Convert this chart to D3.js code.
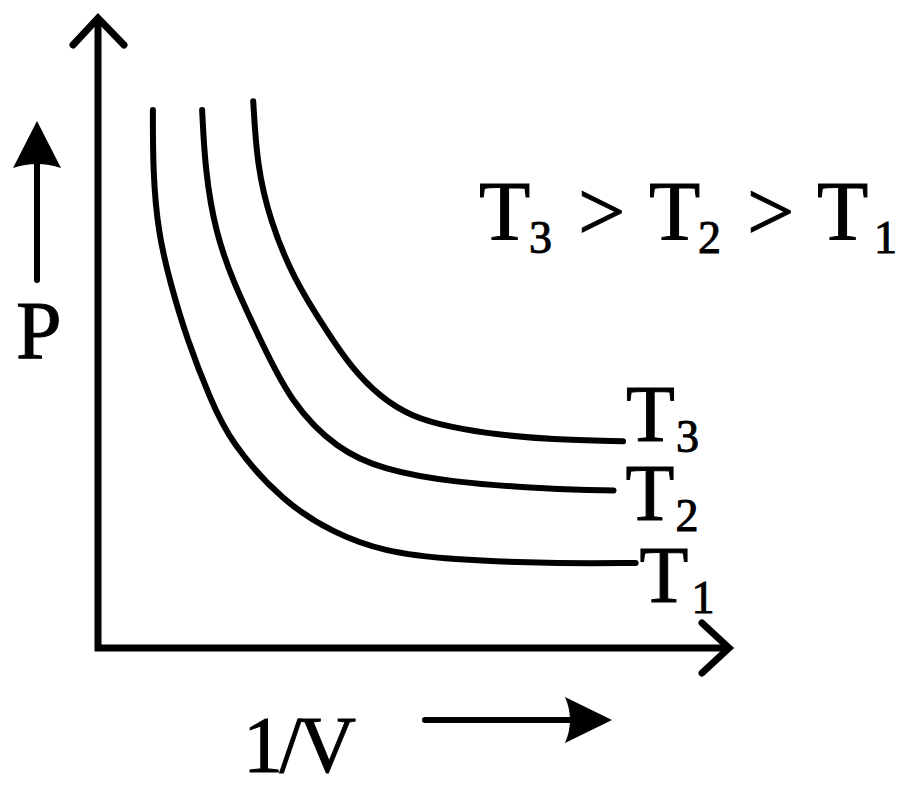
<!DOCTYPE html>
<html>
<head>
<meta charset="utf-8">
<script src="https://cdnjs.cloudflare.com/ajax/libs/d3/7.8.5/d3.min.js"></script>
<style>
  html, body { margin: 0; padding: 0; background: #fff; }
  svg { display: block; }
  text { font-family: 'Liberation Serif', 'Times New Roman', 'DejaVu Serif', serif; fill: #000; stroke: #000; stroke-width: 1; }
</style>
</head>
<body>
<div id="chart"></div>
<script>
// isotherms: [1/V, P] in arbitrary units
var curveT1 = [
  [0.87, 8.54], [0.87, 7.56], [0.95, 6.61], [1.14, 5.81], [1.41, 4.90],
  [1.78, 3.95], [2.10, 3.26], [2.94, 2.31], [3.73, 1.83], [4.52, 1.53],
  [5.59, 1.40], [7.17, 1.34], [8.52, 1.35]
]
var curveT2 = [
  [1.65, 8.54], [1.70, 7.56], [1.86, 6.61], [2.14, 5.81], [2.57, 4.90],
  [3.05, 3.90], [3.79, 3.15], [4.52, 2.83], [5.59, 2.63], [7.17, 2.52],
  [8.17, 2.50]
]
var curveT3 = [
  [2.46, 8.68], [2.52, 7.66], [2.73, 6.77], [3.10, 5.86], [3.63, 5.02],
  [4.03, 4.43], [4.48, 3.98], [4.95, 3.68], [5.59, 3.50], [6.38, 3.38],
  [7.17, 3.31], [8.32, 3.28]
]
var curves = [curveT1, curveT2, curveT3]
var curveSubs = ['1', '2', '3']
var relationParts = [['T', '3'], ['>', ''], ['T', '2'], ['>', ''], ['T', '1']]
var xLabel = '1/V'
var yLabel = 'P'

var width = 900, height = 795

var svg = d3.select('#chart')
  .append('svg')
  .attr('width', width)
  .attr('height', height)

var x = d3.scaleLinear().domain([0, 10]).range([98, 729])
var y = d3.scaleLinear().domain([0, 10]).range([648, 18])

// axes: one path with a square corner at the origin
svg.append('path')
  .attr('d', 'M' + x(0) + ',' + y(10) + 'L' + x(0) + ',' + y(0) + 'L' + x(10) + ',' + y(0))
  .attr('fill', 'none')
  .attr('stroke', '#000')
  .attr('stroke-width', 7)
  .attr('stroke-linejoin', 'miter')

function chevron(tipX, tipY, dx1, dy1, dx2, dy2) {
  svg.append('path')
    .attr('d', 'M' + (tipX + dx1) + ',' + (tipY + dy1) + 'L' + tipX + ',' + tipY +
      'L' + (tipX + dx2) + ',' + (tipY + dy2))
    .attr('fill', 'none')
    .attr('stroke', '#000')
    .attr('stroke-width', 7)
    .attr('stroke-linecap', 'round')
}
chevron(x(0), y(10), -25, 27, 26, 27)
chevron(x(10), y(0), -27, -25, -27, 25)

// the isotherms
var line = d3.line()
  .x(function(d) { return x(d[0]) })
  .y(function(d) { return y(d[1]) })
  .curve(d3.curveBasis)

svg.selectAll('path.iso')
  .data(curves)
  .enter()
  .append('path')
  .attr('class', 'iso')
  .attr('d', line)
  .attr('fill', 'none')
  .attr('stroke', '#000')
  .attr('stroke-width', 6)
  .attr('stroke-linecap', 'round')

// curve labels, placed relative to the end of each curve
var labelShift = [[4, 39], [12, 29], [3, 0]]
var subShift = [52, 50, 50]
curves.forEach(function(c, i) {
  var last = c[c.length - 1]
  var lx = x(last[0]) + labelShift[i][0]
  var ly = y(last[1]) + labelShift[i][1]
  var g = svg.append('text')
    .attr('x', lx)
    .attr('y', ly)
    .attr('font-size', 80)
  g.append('tspan').text('T')
  g.append('tspan')
    .attr('font-size', 46)
    .attr('x', lx + subShift[i])
    .attr('dy', 11)
    .text(curveSubs[i])
})

// relation T3 > T2 > T1
var relX = [479, 578, 649, 747, 817]
var relSubX = [529, 0, 698, 0, 874]
var rel = svg.append('text')
  .attr('y', 240)
  .attr('font-size', 84)
relationParts.forEach(function(p, i) {
  rel.append('tspan')
    .attr('x', relX[i])
    .attr('y', 240)
    .text(p[0])
  if (p[1] !== '') {
    rel.append('tspan')
      .attr('font-size', 46)
      .attr('x', relSubX[i])
      .attr('y', 253)
      .text(p[1])
  }
})

// P with arrow pointing up
svg.append('line')
  .attr('x1', 37).attr('y1', 280)
  .attr('x2', 37).attr('y2', 158)
  .attr('stroke', '#000')
  .attr('stroke-width', 6)
  .attr('stroke-linecap', 'round')
svg.append('path')
  .attr('d', 'M37,121L61,168Q37,160 13,168Z')
  .attr('fill', '#000')
svg.append('text')
  .attr('x', 16)
  .attr('y', 358)
  .attr('font-size', 82)
  .text(yLabel)

// 1/V with arrow pointing right
svg.append('text')
  .attr('x', 243)
  .attr('y', 772)
  .attr('font-size', 80)
  .attr('textLength', 113)
  .text(xLabel)
svg.append('line')
  .attr('x1', 425).attr('y1', 720)
  .attr('x2', 572).attr('y2', 720)
  .attr('stroke', '#000')
  .attr('stroke-width', 6)
  .attr('stroke-linecap', 'round')
svg.append('path')
  .attr('d', 'M612,720L565,697Q575,720 565,743Z')
  .attr('fill', '#000')
</script>
</body>
</html>
